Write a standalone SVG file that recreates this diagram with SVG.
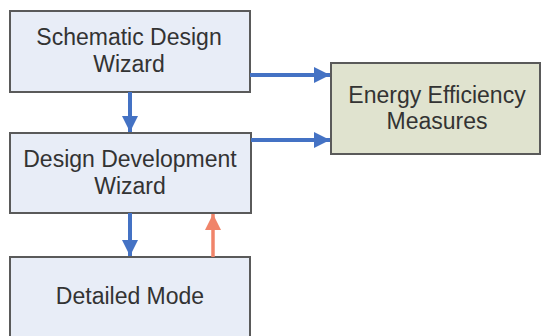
<svg xmlns="http://www.w3.org/2000/svg" width="543" height="336" viewBox="0 0 543 336">
  <defs>
    <style>
      .box { fill: #e8edf7; stroke: #5a5a5a; stroke-width: 2; }
      .eem { fill: #e0e3cf; stroke: #5a5a5a; stroke-width: 2; }
      .lbl { font-family: "Liberation Sans", Arial, sans-serif; font-size: 23px; fill: #333333; text-anchor: middle; }
      .blue { stroke: #4472c4; stroke-width: 4; fill: none; }
      .orange { stroke: #f0846a; stroke-width: 3.5; fill: none; }
    </style>
    <marker id="ab" viewBox="0 0 10 10" refX="10" refY="5" markerUnits="userSpaceOnUse" markerWidth="18" markerHeight="16" orient="auto">
      <path d="M0,0 L10,5 L0,10 Z" fill="#4472c4"/>
    </marker>
    <marker id="ao" viewBox="0 0 10 10" refX="10" refY="5" markerUnits="userSpaceOnUse" markerWidth="17" markerHeight="16" orient="auto">
      <path d="M0,0 L10,5 L0,10 Z" fill="#f0846a"/>
    </marker>
  </defs>
  <rect width="543" height="336" fill="#ffffff"/>
  <g id="schematic">
    <rect class="box" x="10" y="11" width="240" height="81"/>
    <text class="lbl" x="129" y="45">Schematic Design</text>
    <text class="lbl" x="129" y="72">Wizard</text>
  </g>
  <g id="development">
    <rect class="box" x="10" y="133" width="241" height="80"/>
    <text class="lbl" x="130" y="167">Design Development</text>
    <text class="lbl" x="130" y="194">Wizard</text>
  </g>
  <g id="detailed">
    <rect class="box" x="10" y="257" width="240" height="90"/>
    <text class="lbl" x="130" y="304">Detailed Mode</text>
  </g>
  <g id="energy">
    <rect class="eem" x="331" y="63" width="209" height="91"/>
    <text class="lbl" x="437" y="103">Energy Efficiency</text>
    <text class="lbl" x="437" y="129">Measures</text>
  </g>
  <g id="connectors">
    <line class="blue" x1="130" y1="92" x2="130" y2="132" marker-end="url(#ab)"/>
    <line class="blue" x1="130" y1="213" x2="130" y2="256" marker-end="url(#ab)"/>
    <line class="orange" x1="213" y1="257" x2="213" y2="214" marker-end="url(#ao)"/>
    <line class="blue" x1="250" y1="75" x2="330" y2="75" marker-end="url(#ab)"/>
    <line class="blue" x1="251" y1="140" x2="330" y2="140" marker-end="url(#ab)"/>
  </g>
</svg>
